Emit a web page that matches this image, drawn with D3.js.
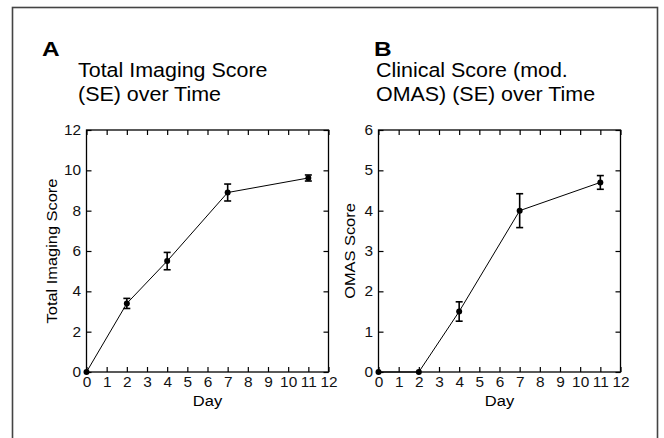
<!DOCTYPE html>
<html>
<head>
<meta charset="utf-8">
<script src="https://cdn.jsdelivr.net/npm/d3@7"></script>
<style>
  body { margin: 0; background: #fff; }
  svg { display: block; font-family: "Liberation Sans", Arial, sans-serif; }
</style>
</head>
<body>
<svg id="chart" width="664" height="438"></svg>
<script>
// days measured
var days = [0, 2, 4, 7, 11];
var xTicks = [0, 1, 2, 3, 4, 5, 6, 7, 8, 9, 10, 11, 12];

// panel A - total imaging score
var imagingMean = [0, 3.4, 5.5, 8.9, 9.62];
var imagingSE = [0, 0.25, 0.43, 0.42, 0.15];
var imagingTicks = [0, 2, 4, 6, 8, 10, 12];

// panel B - clinical score (mod. OMAS)
var omasMean = [0, 0, 1.5, 4.0, 4.7];
var omasSE = [0, 0, 0.24, 0.42, 0.17];
var omasTicks = [0, 1, 2, 3, 4, 5, 6];

var svg = d3.select('#chart');

svg.append('rect')
    .attr('x', 12.5).attr('y', 7.5)
    .attr('width', 645).attr('height', 440)
    .attr('fill', 'none')
    .attr('stroke', '#444')
    .attr('stroke-width', 1.6);

// the original font runs a bit wider than Liberation Sans
var wide = 1.1;

function drawPanel(opts) {
    var left = opts.left, right = opts.right, top = 130, bottom = 372;

    var x = d3.scaleLinear().domain([0, 12]).range([left, right]);
    var y = d3.scaleLinear().domain([0, opts.ymax]).range([bottom, top]);
    var tick = 5;

    var g = svg.append('g');

    // letter + title
    g.append('text')
        .attr('transform', 'translate(' + opts.letterX + ',56) scale(1.22,1)')
        .attr('font-size', 20).attr('font-weight', 'bold')
        .text(opts.letter);
    opts.title.forEach(function(t, i) {
        g.append('text')
            .attr('transform', 'translate(' + opts.titleX + ',' + (76.5 + i * 24.5) + ') scale(' + wide + ',1)')
            .attr('font-size', 19.5)
            .text(t);
    });

    // frame
    g.append('rect')
        .attr('x', left).attr('y', top)
        .attr('width', right - left).attr('height', bottom - top)
        .attr('fill', 'none').attr('stroke', '#000').attr('stroke-width', 1.3);

    // axes with inward ticks
    var xb = g.append('g').attr('transform', 'translate(0,' + bottom + ')')
        .call(d3.axisBottom(x).tickValues(xTicks).tickSize(-tick).tickPadding(5).tickFormat(d3.format('d')));
    var xt = g.append('g').attr('transform', 'translate(0,' + top + ')')
        .call(d3.axisTop(x).tickValues(xTicks).tickSize(-tick).tickFormat(''));
    var yl = g.append('g').attr('transform', 'translate(' + left + ',0)')
        .call(d3.axisLeft(y).tickValues(opts.yTicks).tickSize(-tick).tickPadding(5).tickFormat(d3.format('d')));
    var yr = g.append('g').attr('transform', 'translate(' + right + ',0)')
        .call(d3.axisRight(y).tickValues(opts.yTicks).tickSize(-tick).tickFormat(''));
    [xb, xt, yl, yr].forEach(function(a) {
        a.select('.domain').remove();
        a.selectAll('line').attr('stroke', '#000').attr('stroke-width', 1.2);
        a.selectAll('text')
            .attr('font-size', 14)
            .attr('font-family', '"Liberation Sans", Arial, sans-serif')
            .attr('fill', '#111')
            .attr('transform', 'scale(' + wide + ',1)');
    });

    // axis titles
    g.append('text')
        .attr('transform', 'translate(' + (left + right) / 2 + ',406) scale(' + wide + ',1)')
        .attr('text-anchor', 'middle').attr('font-size', 15)
        .text('Day');
    g.append('text')
        .attr('transform', 'translate(' + opts.ylabX + ',' + (top + bottom) / 2 + ') rotate(-90) scale(1.13,1)')
        .attr('text-anchor', 'middle').attr('font-size', 14.5)
        .text(opts.ylabel);

    var data = days.map(function(d, i) {
        return { day: d, mean: opts.mean[i], se: opts.se[i] };
    });

    var line = d3.line().x(function(d) { return x(d.day); }).y(function(d) { return y(d.mean); });
    g.append('path')
        .datum(data)
        .attr('fill', 'none').attr('stroke', '#000').attr('stroke-width', 1)
        .attr('d', line);

    var eb = g.selectAll('.eb').data(data.filter(function(d) { return d.se > 0; }))
        .enter().append('g').attr('class', 'eb');
    eb.append('line')
        .attr('x1', function(d) { return x(d.day); }).attr('x2', function(d) { return x(d.day); })
        .attr('y1', function(d) { return y(d.mean - d.se); }).attr('y2', function(d) { return y(d.mean + d.se); });
    eb.append('line')
        .attr('x1', function(d) { return x(d.day) - 3.5; }).attr('x2', function(d) { return x(d.day) + 3.5; })
        .attr('y1', function(d) { return y(d.mean + d.se); }).attr('y2', function(d) { return y(d.mean + d.se); });
    eb.append('line')
        .attr('x1', function(d) { return x(d.day) - 3.5; }).attr('x2', function(d) { return x(d.day) + 3.5; })
        .attr('y1', function(d) { return y(d.mean - d.se); }).attr('y2', function(d) { return y(d.mean - d.se); });
    eb.selectAll('line').attr('stroke', '#000').attr('stroke-width', 1.6);

    g.selectAll('.pt').data(data).enter().append('circle')
        .attr('class', 'pt')
        .attr('cx', function(d) { return x(d.day); })
        .attr('cy', function(d) { return y(d.mean); })
        .attr('r', 3)
        .attr('fill', '#000');
}

drawPanel({
    left: 86.5, right: 328.5, ymax: 12, yTicks: imagingTicks,
    mean: imagingMean, se: imagingSE,
    letter: 'A', letterX: 42, titleX: 78,
    title: ['Total Imaging Score', '(SE) over Time'],
    ylabel: 'Total Imaging Score', ylabX: 57
});

drawPanel({
    left: 378.5, right: 620.5, ymax: 6, yTicks: omasTicks,
    mean: omasMean, se: omasSE,
    letter: 'B', letterX: 374, titleX: 376,
    title: ['Clinical Score (mod.', 'OMAS) (SE) over Time'],
    ylabel: 'OMAS Score', ylabX: 355
});
</script>
</body>
</html>
